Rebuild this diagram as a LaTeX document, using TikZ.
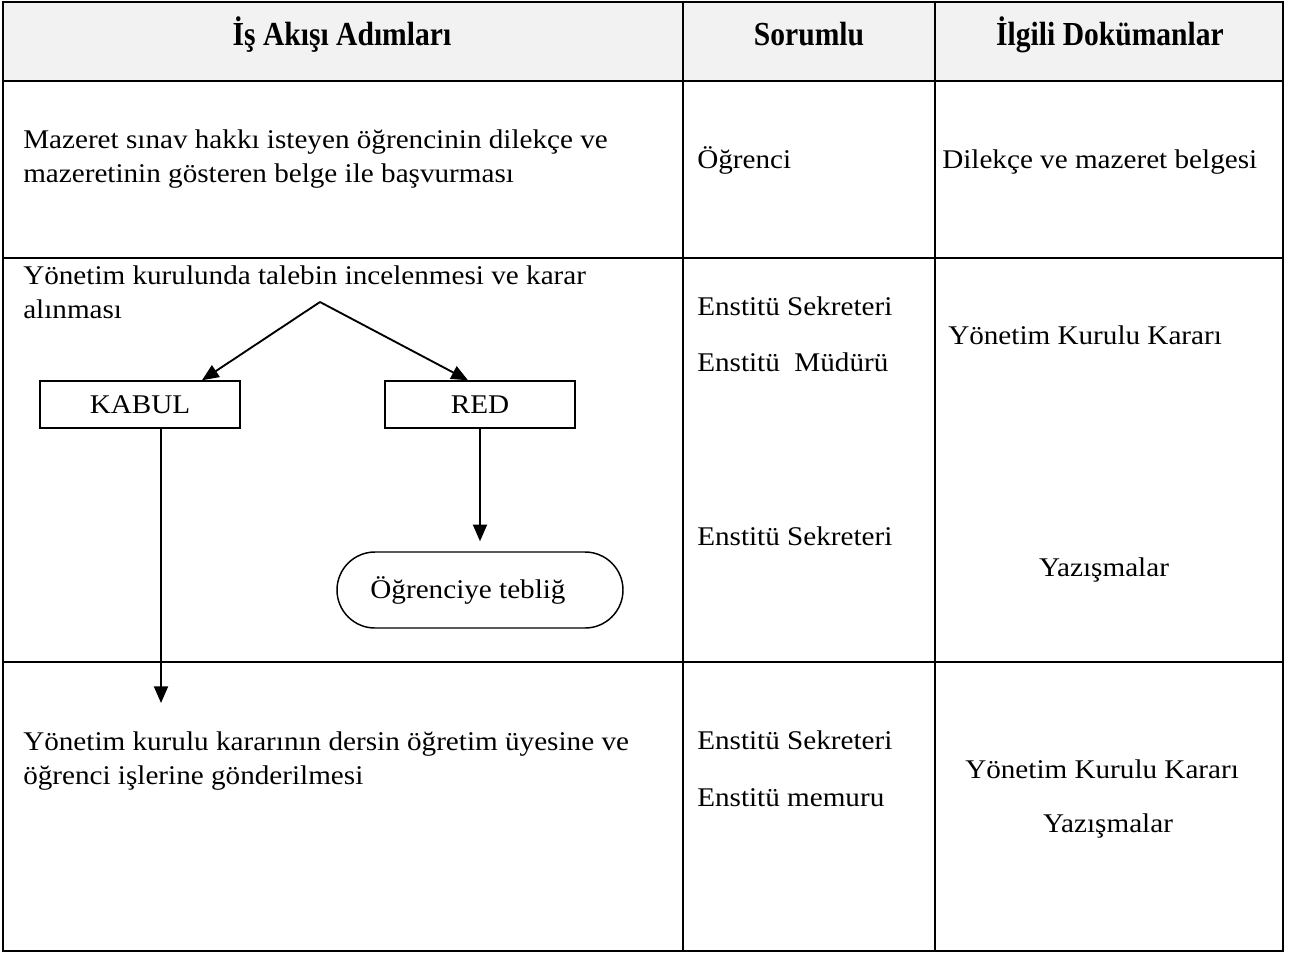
\documentclass[tikz,border=0pt]{standalone}
\usepackage{fontspec}
\setmainfont{Liberation Serif}[FakeStretch=1.08]
\newfontfamily\hdrfont{Liberation Serif}[FakeStretch=0.88]
\usetikzlibrary{arrows.meta,shapes.misc}
\definecolor{hdrgray}{HTML}{F2F2F2}
\newcommand\bodysize{\fontsize{20.25pt}{25.5pt}\selectfont}
\newcommand\hdrsize{\hdrfont\bfseries\fontsize{25.2pt}{28pt}\selectfont}
\tikzset{
  tbl/.style={line width=1.6pt},
  txt/.style={inner sep=0pt, anchor=base west, font=\bodysize},
  ctxt/.style={inner sep=0pt, anchor=base, font=\bodysize},
  hdr/.style={inner sep=0pt, anchor=base, font=\hdrsize},
  flowbox/.style={draw, line width=1.1pt, rectangle, inner sep=0pt, font=\bodysize, minimum height=35.25pt},
  pill/.style={draw, line width=1.1pt, rounded rectangle, inner sep=0pt, font=\bodysize, minimum width=214.5pt, minimum height=57pt},
  arr/.style={line width=1.4pt, -{Triangle[length=12.5pt,width=10.5pt]}}
}
\begin{document}
\begin{tikzpicture}[x=0.75pt,y=-0.75pt]
\useasboundingbox (0,0) rectangle (1289,954);
% table
\fill[hdrgray] (3,2) rectangle (1283,81);
\draw[tbl] (3,2) rectangle (1283,951);
\draw[tbl] (3,81) -- (1283,81);
\draw[tbl] (3,258) -- (1283,258);
\draw[tbl] (3,662) -- (1283,662);
\draw[tbl] (683,2) -- (683,951);
\draw[tbl] (935,2) -- (935,951);
% header
\node[hdr] (h1) at (342,45) {İş Akışı Adımları};
\node[hdr] (h2) at (809,45) {Sorumlu};
\node[hdr] (h3) at (1110,45) {İlgili Dokümanlar};
% row 1
\node[txt] (r1a) at (23,148) {Mazeret sınav hakkı isteyen öğrencinin dilekçe ve};
\node[txt] (r1b) at (23,182) {mazeretinin gösteren belge ile başvurması};
\node[txt] (r1s) at (697,168) {Öğrenci};
\node[txt] (r1d) at (942,168) {Dilekçe ve mazeret belgesi};
% row 2
\node[txt] (r2a) at (23,284) {Yönetim kurulunda talebin incelenmesi ve karar};
\node[txt] (r2b) at (23,318) {alınması};
\node[txt] (r2s1) at (697,315) {Enstitü Sekreteri};
\node[txt] (r2s2) at (697,371) {Enstitü\ \ Müdürü};
\node[txt] (r2s3) at (697,545) {Enstitü Sekreteri};
\node[txt] (r2d1) at (948,344) {Yönetim Kurulu Kararı};
\node[ctxt] (r2d2) at (1104,576) {Yazışmalar};
% flow
\node[flowbox, minimum width=150pt] (kabul) at (140,404.5) {KABUL};
\node[flowbox, minimum width=142.5pt] (red) at (480,404.5) {RED};
\node[pill] (pill) at (480,590) {Öğrenciye tebliğ\kern18pt};
\coordinate (apex) at (320,302);
\coordinate (kend) at (161,703);
\draw[arr] (apex) -- ([xshift=46.5pt]kabul.north);
\draw[arr] (apex) -- ([xshift=-9pt]red.north);
\draw[arr, shorten >=7.5pt] (red.south) -- (pill.north);
\draw[arr] (kabul.south -| kend) -- (kend);
% row 3
\node[txt] (r3a) at (23,750) {Yönetim kurulu kararının dersin öğretim üyesine ve};
\node[txt] (r3b) at (23,784) {öğrenci işlerine gönderilmesi};
\node[txt] (r3s1) at (697,749) {Enstitü Sekreteri};
\node[txt] (r3s2) at (697,806) {Enstitü memuru};
\node[txt] (r3d1) at (965,778) {Yönetim Kurulu Kararı};
\node[ctxt] (r3d2) at (1108,832) {Yazışmalar};
\end{tikzpicture}
\end{document}
